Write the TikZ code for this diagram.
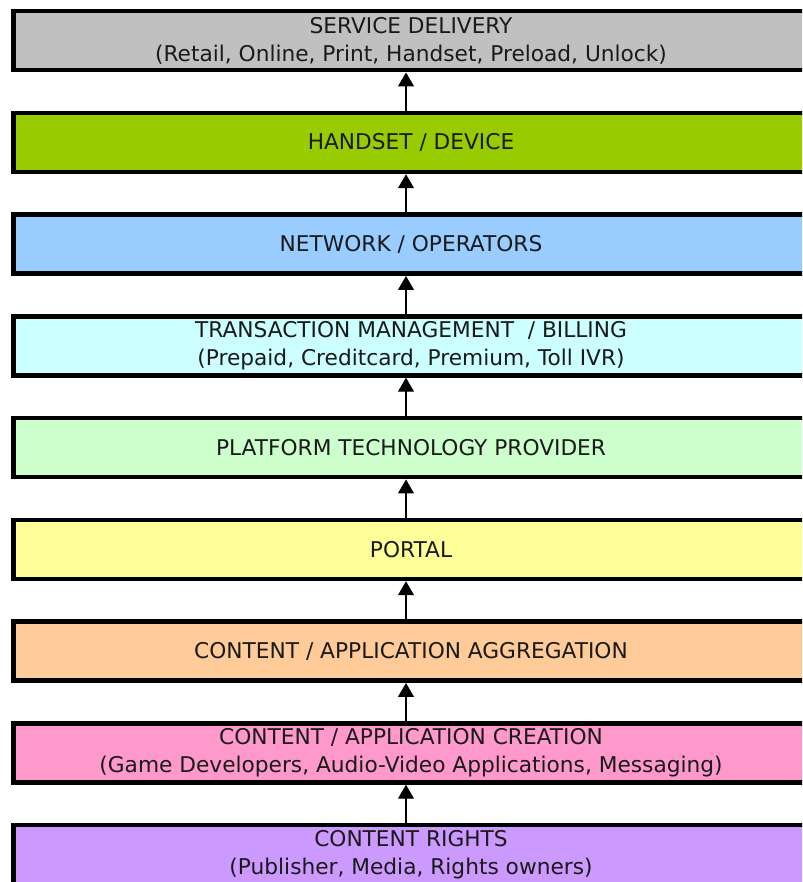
\documentclass[tikz,border=0pt]{standalone}
\usepackage{fontspec}
\setmainfont{DejaVu Sans}
\usepackage{tikz}
\usetikzlibrary{positioning,arrows.meta}

\definecolor{delivery}{HTML}{C0C0C0}
\definecolor{device}{HTML}{99CC00}
\definecolor{network}{HTML}{99CCFF}
\definecolor{billing}{HTML}{CCFFFF}
\definecolor{platform}{HTML}{CCFFCC}
\definecolor{portal}{HTML}{FFFF99}
\definecolor{aggregation}{HTML}{FFCC99}
\definecolor{creation}{HTML}{FF99CC}
\definecolor{rights}{HTML}{CC99FF}
\definecolor{ink}{HTML}{1A1A1A}

\begin{document}
\begin{tikzpicture}[
x=1pt, y=1pt,
layer/.style={
	draw,
	rectangle,
	line width=4.5pt,
	minimum width=795.5pt,
	minimum height=59pt,
	inner sep=2pt,
	align=center,
	text=ink,
	font=\fontsize{21.7}{28}\selectfont
},
link/.style={
	line width=1.2pt,
	-{Triangle[width=16pt,length=14pt]}
},
node distance=38.25pt
]

\useasboundingbox (0,0) rectangle (802,882);
\clip (0,0) rectangle (802,882);

\node[layer, fill=delivery] at (411,841.25)
(l1) {SERVICE DELIVERY\\(Retail, Online, Print, Handset, Preload, Unlock)};

\node[layer, fill=device, below=of l1]
(l2) {HANDSET / DEVICE};

\node[layer, fill=network, below=of l2]
(l3) {NETWORK / OPERATORS};

\node[layer, fill=billing, below=of l3]
(l4) {TRANSACTION MANAGEMENT \ / BILLING\\(Prepaid, Creditcard, Premium, Toll IVR)};

\node[layer, fill=platform, below=of l4]
(l5) {PLATFORM TECHNOLOGY PROVIDER};

\node[layer, fill=portal, below=of l5]
(l6) {PORTAL};

\node[layer, fill=aggregation, below=of l6]
(l7) {CONTENT / APPLICATION AGGREGATION};

\node[layer, fill=creation, below=of l7]
(l8) {CONTENT / APPLICATION CREATION\\(Game Developers, Audio-Video Applications, Messaging)};

\node[layer, fill=rights, below=of l8]
(l9) {CONTENT RIGHTS\\(Publisher, Media, Rights owners)};

\foreach \i/\j in {2/1,3/2,4/3,5/4,6/5,7/6,8/7,9/8}
	\draw[link] ([xshift=-5pt]l\i.north) -- ([xshift=-5pt]l\j.south);

\end{tikzpicture}
\end{document}
